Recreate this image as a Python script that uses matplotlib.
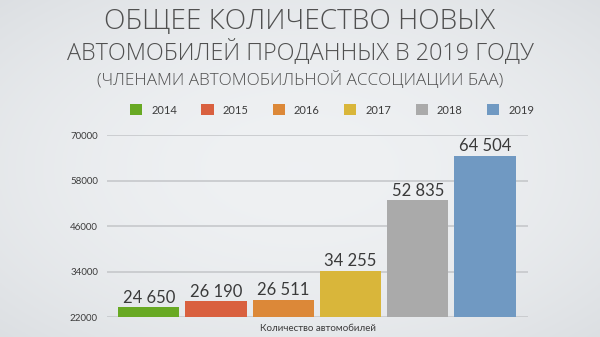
import numpy as np
import matplotlib
matplotlib.use("Agg")
import matplotlib.pyplot as plt
from matplotlib.patches import Patch

years = ["2014", "2015", "2016", "2017", "2018", "2019"]
cars_sold = [24650, 26190, 26511, 34255, 52835, 64504]
value_labels = ["24 650", "26 190", "26 511", "34 255", "52 835", "64 504"]
bar_colors = ["#68a923", "#d9603f", "#dc8838", "#d9b63a", "#aaaaaa", "#7099c2"]
y_ticks = [22000, 34000, 46000, 58000, 70000]

title_line1 = "ОБЩЕЕ КОЛИЧЕСТВО НОВЫХ"
title_line2 = "АВТОМОБИЛЕЙ ПРОДАННЫХ В 2019 ГОДУ"
subtitle = "(ЧЛЕНАМИ АВТОМОБИЛЬНОЙ АССОЦИАЦИИ БАА)"
x_label = "Количество автомобилей"

plt.rcParams["font.family"] = ["Lato", "DejaVu Sans"]
title_font = ["Open Sans", "DejaVu Sans"]

W, H = 600, 337
fig = plt.figure(figsize=(W / 100, H / 100), dpi=100)

# soft radial background
bg = fig.add_axes([0, 0, 1, 1], zorder=-10)
yy, xx = np.mgrid[0:1:200j, 0:1:360j]
r = np.sqrt(((xx - 0.5) / 0.7) ** 2 + ((yy - 0.5) / 0.7) ** 2)
c_in = np.array([0.937, 0.945, 0.953])
c_out = np.array([0.865, 0.877, 0.890])
t = np.clip(r, 0, 1)[..., None] ** 2
img = c_in * (1 - t) + c_out * t
bg.imshow(img, extent=[0, 1, 0, 1], aspect="auto")
bg.axis("off")

ax = fig.add_axes([107 / W, 1 - 317.3 / H, (528 - 107) / W, (317.3 - 135.3) / H])
ax.patch.set_alpha(0)

x = np.arange(len(years))
bars = ax.bar(x, [v - y_ticks[0] for v in cars_sold], bottom=y_ticks[0],
              width=0.91, color=bar_colors, zorder=3)
for xi, v, lab in zip(x, cars_sold, value_labels):
    ax.text(xi, v + 1250, lab, ha="center", va="baseline", fontsize=12,
            color="#3a3a3a", zorder=4)

ax.set_xlim(-0.62, 5.64)
ax.set_ylim(y_ticks[0], y_ticks[-1])
ax.set_yticks(y_ticks)
ax.set_yticklabels([str(v) for v in y_ticks], fontsize=7, color="#3c3c3c")
ax.tick_params(axis="y", length=0, pad=6.5)
ax.set_xticks([])
ax.grid(axis="y", color="#c6c8cb", linewidth=1.2, zorder=0)
for s in ax.spines.values():
    s.set_visible(False)
ax.set_xlabel(x_label, fontsize=7, color="#3c3c3c", labelpad=5)

fig.text(0.5, 1 - 22 / H, title_line1, ha="center", va="center",
         fontsize=20.2, fontweight="light", family=title_font, color="#505050")
fig.text(0.5, 1 - 52.5 / H, title_line2, ha="center", va="center",
         fontsize=16.8, fontweight="light", family=title_font, color="#505050")
fig.text(0.5, 1 - 79.5 / H, subtitle, ha="center", va="center",
         fontsize=12.3, fontweight="light", family=title_font, color="#505050")

handles = [Patch(facecolor=c, label=y) for c, y in zip(bar_colors, years)]
fig.legend(handles=handles, loc="center", bbox_to_anchor=(332 / W, 1 - 110 / H),
           ncol=6, frameon=False, fontsize=8, handlelength=1.1, handleheight=1.1,
           columnspacing=2.2, handletextpad=0.8, labelcolor="#3c3c3c")

fig.savefig("out.png", dpi=100)
